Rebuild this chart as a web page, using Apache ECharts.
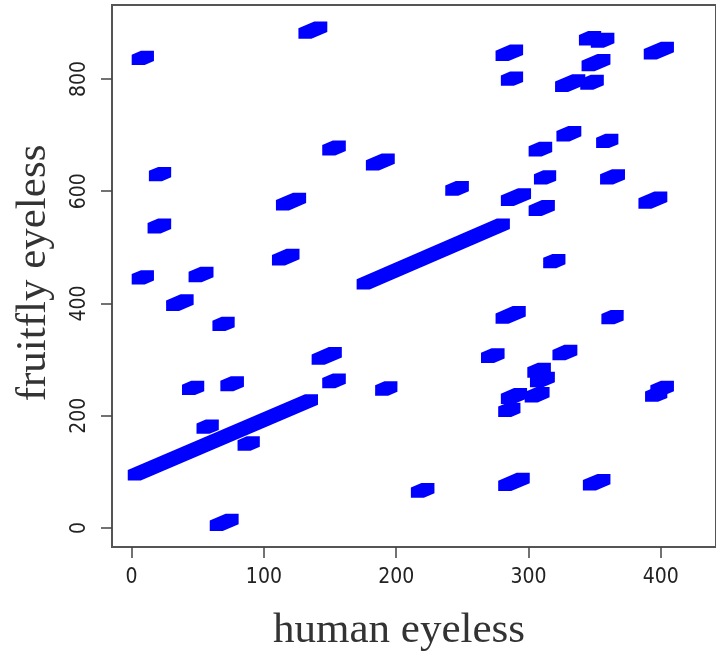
<!DOCTYPE html>
<html>
<head>
<meta charset="utf-8">
<script src="https://cdn.jsdelivr.net/npm/echarts@6/dist/echarts.min.js"></script>
<style>
  html, body { margin: 0; padding: 0; background: #fff; }
  #chart { width: 716px; height: 651px; }
</style>
</head>
<body>
<div id="chart"></div>
<script>
// matching runs: start and end position in each sequence
var humanStart = [2, 175, 5, 131, 18, 114, 17, 111, 5, 48, 149, 182, 242, 280, 284, 343, 352, 345, 325, 344, 392,
  326, 356, 305, 309, 359, 284, 305, 388, 316, 31, 66, 43, 72, 54, 85, 64, 141, 149, 189, 216, 269, 280, 360,
  323, 304, 306, 284, 302, 282, 393, 397, 282, 346];
var flyStart = [94, 434, 834, 881, 627, 575, 534, 477, 443, 447, 673, 646, 601, 841, 797, 869, 865, 823, 786, 790, 844,
  698, 686, 671, 621, 621, 583, 565, 578, 472, 396, 360, 246, 253, 177, 147, 4, 300, 258, 245, 63, 303, 373, 372,
  308, 277, 260, 230, 233, 207, 234, 245, 75, 76];
var humanEnd = [136, 281, 12, 143, 25, 127, 25, 122, 12, 57, 157, 194, 250, 291, 291, 350, 360, 357, 338, 352, 405,
  335, 363, 313, 316, 368, 297, 315, 400, 323, 42, 73, 50, 80, 61, 92, 76, 154, 157, 196, 224, 277, 293, 367,
  332, 312, 315, 294, 311, 289, 400, 405, 296, 357];
var flyEnd = [229, 542, 841, 893, 634, 588, 542, 488, 450, 456, 681, 658, 609, 852, 804, 876, 873, 835, 799, 798, 857,
  707, 693, 679, 628, 630, 596, 575, 590, 479, 407, 367, 253, 261, 184, 154, 16, 313, 266, 252, 71, 311, 386, 379,
  317, 285, 269, 240, 242, 214, 241, 253, 89, 87];

var xTicks = [0, 100, 200, 300, 400];
var yTicks = [0, 200, 400, 600, 800];

var runs = humanStart.map(function (x, i) {
  return [x, flyStart[i], humanEnd[i], flyEnd[i]];
});

// each run is a small block swept along the diagonal
function renderRun(params, api) {
  var p1 = api.coord([api.value(0), api.value(1)]);
  var p2 = api.coord([api.value(2), api.value(3)]);
  var hx = 6.5, hy = 5.2;
  return {
    type: 'polygon',
    shape: {
      points: [
        [p1[0] - hx, p1[1] + hy],
        [p1[0] - hx, p1[1] - hy],
        [p2[0] - hx, p2[1] - hy],
        [p2[0] + hx, p2[1] - hy],
        [p2[0] + hx, p2[1] + hy],
        [p1[0] + hx, p1[1] + hy]
      ]
    },
    style: { fill: '#0000ff' }
  };
}

var chart = echarts.init(document.getElementById('chart'));

var tickLabel = {
  fontFamily: 'Liberation Sans Narrow, DejaVu Sans Condensed, sans-serif',
  fontSize: 21,
  color: '#222'
};

chart.setOption({
  animation: false,
  grid: {
    left: 112, top: 5, right: -10, bottom: 104,
    show: true, borderColor: '#555', borderWidth: 2
  },
  xAxis: {
    type: 'value',
    min: -14.8, max: 441.7,
    axisLine: { show: false, onZero: false },
    axisTick: { customValues: xTicks, length: 11, lineStyle: { color: '#444', width: 1.5 } },
    axisLabel: Object.assign({ customValues: xTicks, margin: 20 }, tickLabel),
    splitLine: { show: false }
  },
  yAxis: {
    type: 'value',
    min: -33.9, max: 931.7,
    axisLine: { show: false, onZero: false },
    axisTick: { customValues: yTicks, length: 11, lineStyle: { color: '#444', width: 1.5 } },
    axisLabel: Object.assign({ customValues: yTicks, margin: 22, rotate: 90 }, tickLabel),
    splitLine: { show: false }
  },
  graphic: [
    {
      type: 'text', x: 399, y: 631,
      style: {
        text: 'human eyeless', font: '43px "Liberation Serif", serif',
        fill: '#333', align: 'center', verticalAlign: 'middle'
      }
    },
    {
      type: 'text', x: 34, y: 273, rotation: Math.PI / 2,
      style: {
        text: 'fruitfly eyeless', font: '43px "Liberation Serif", serif',
        fill: '#333', align: 'center', verticalAlign: 'middle'
      }
    }
  ],
  series: [{
    type: 'custom',
    renderItem: renderRun,
    encode: { x: [0, 2], y: [1, 3] },
    data: runs
  }]
});
</script>
</body>
</html>
